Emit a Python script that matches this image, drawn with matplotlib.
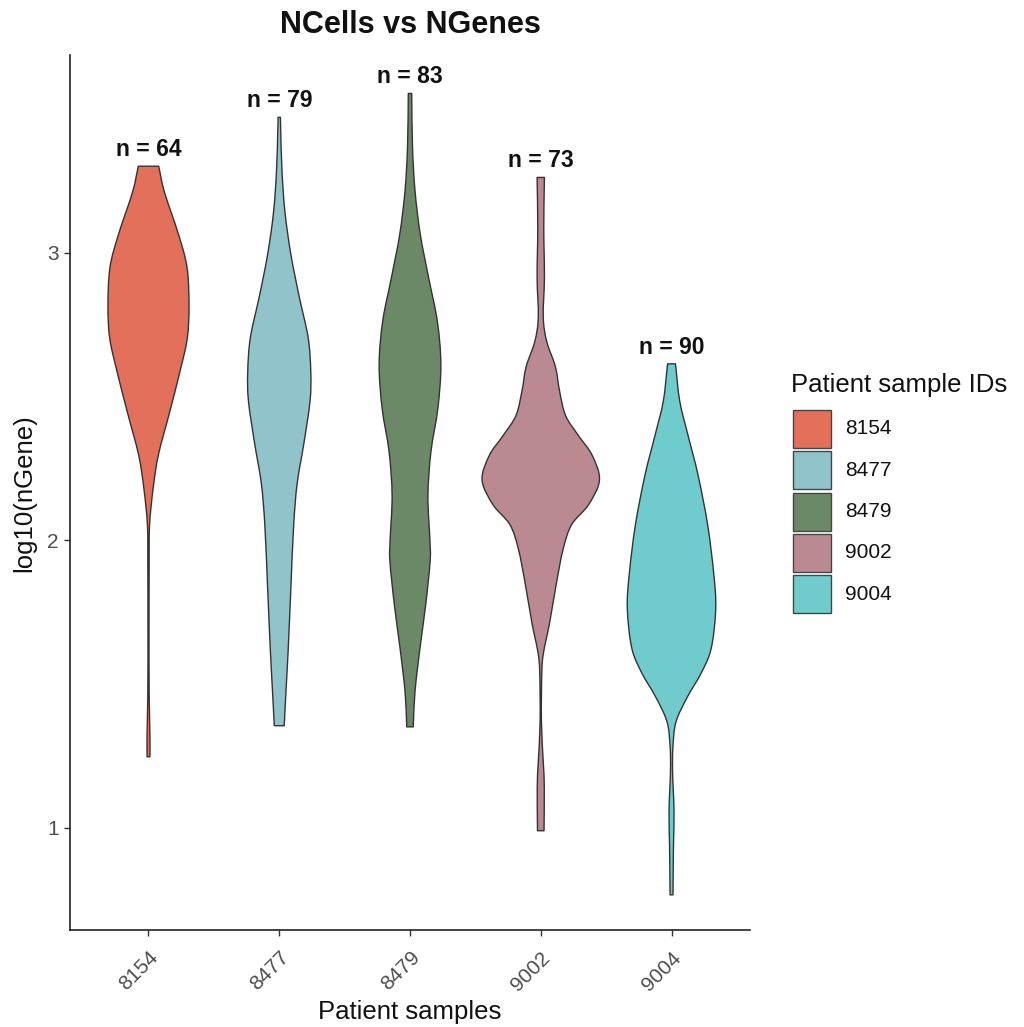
import numpy as np
import matplotlib
matplotlib.use("Agg")
import matplotlib.pyplot as plt
from matplotlib.path import Path
from matplotlib.patches import PathPatch, Rectangle

plt.rcParams["font.family"] = ["Liberation Sans", "DejaVu Sans"]

# ---- data -------------------------------------------------------------
samples = ["8154", "8477", "8479", "9002", "9004"]
cell_counts = [64, 79, 83, 73, 90]
fill_colors = ["#E2705A", "#91C3CB", "#6C8967", "#BB8991", "#70CCCC"]

# Violin outlines: log10(nGene) levels (top -> bottom) and density half-widths
# (in category units) at each level.
levels_8154 = [3.300, 3.210, 3.065, 2.950, 2.819, 2.703, 2.587, 2.442, 2.297,
               2.182, 2.051, 1.906, 1.689, 1.471, 1.327, 1.247]
widths_8154 = [0.078, 0.122, 0.228, 0.294, 0.310, 0.297, 0.241, 0.160, 0.076,
               0.036, 0.008, 0.005, 0.004, 0.005, 0.011, 0.011]

levels_8477 = [3.470, 3.428, 3.283, 3.139, 2.993, 2.848, 2.704, 2.587, 2.486,
               2.341, 2.197, 2.050, 1.835, 1.616, 1.471, 1.355]
widths_8477 = [0.009, 0.011, 0.021, 0.044, 0.089, 0.152, 0.221, 0.241, 0.236,
               0.190, 0.137, 0.110, 0.089, 0.068, 0.051, 0.038]

levels_8479 = [3.553, 3.368, 3.216, 3.065, 2.913, 2.761, 2.610, 2.458, 2.307,
               2.155, 2.003, 1.929, 1.776, 1.624, 1.473, 1.351]
widths_8479 = [0.013, 0.019, 0.038, 0.078, 0.142, 0.209, 0.236, 0.213, 0.160,
               0.137, 0.152, 0.154, 0.120, 0.076, 0.038, 0.025]

levels_9002 = [3.261, 3.085, 2.913, 2.775, 2.690, 2.603, 2.518, 2.433, 2.363,
               2.295, 2.209, 2.123, 2.054, 1.969, 1.849, 1.711, 1.609, 1.539,
               1.369, 1.230, 1.144, 0.990]
widths_9002 = [0.028, 0.023, 0.028, 0.019, 0.046, 0.112, 0.144, 0.190, 0.289,
               0.393, 0.449, 0.365, 0.236, 0.171, 0.119, 0.067, 0.021, 0.008,
               0.005, 0.019, 0.027, 0.025]

levels_9004 = [2.613, 2.483, 2.363, 2.226, 2.054, 1.883, 1.762, 1.625, 1.539,
               1.454, 1.368, 1.282, 1.196, 1.059, 0.938, 0.767]
widths_9004 = [0.030, 0.063, 0.127, 0.203, 0.276, 0.323, 0.338, 0.304, 0.228,
               0.120, 0.034, 0.011, 0.008, 0.019, 0.015, 0.011]

violin_levels = [levels_8154, levels_8477, levels_8479, levels_9002, levels_9004]
violin_widths = [widths_8154, widths_8477, widths_8479, widths_9002, widths_9004]

y_ticks = [1, 2, 3]


# ---- helpers -----------------------------------------------------------
def smooth_side(pts):
    """Catmull-Rom style cubic Bezier segments through (w, y) points."""
    pts = np.asarray(pts, float)
    n = len(pts)
    m = np.zeros_like(pts)
    m[1:-1] = (pts[2:] - pts[:-2]) / 2.0
    m[0] = pts[1] - pts[0]
    m[-1] = pts[-1] - pts[-2]
    segs = []
    for i in range(n - 1):
        c1 = pts[i] + m[i] / 3.0
        c2 = pts[i + 1] - m[i + 1] / 3.0
        c1[0] = max(c1[0], 0.002)
        c2[0] = max(c2[0], 0.002)
        segs.append((c1, c2, pts[i + 1]))
    return segs


def violin_patch(x0, levels, widths, color):
    pts = np.column_stack([widths, levels])
    verts, codes = [], []
    # right side, top -> bottom
    verts.append((x0 + pts[0, 0], pts[0, 1]))
    codes.append(Path.MOVETO)
    for c1, c2, p in smooth_side(pts):
        for q in (c1, c2, p):
            verts.append((x0 + q[0], q[1]))
            codes.append(Path.CURVE4)
    # flat trimmed bottom
    verts.append((x0 - pts[-1, 0], pts[-1, 1]))
    codes.append(Path.LINETO)
    # left side, bottom -> top
    for c1, c2, p in smooth_side(pts[::-1]):
        for q in (c1, c2, p):
            verts.append((x0 - q[0], q[1]))
            codes.append(Path.CURVE4)
    verts.append((x0 + pts[0, 0], pts[0, 1]))
    codes.append(Path.CLOSEPOLY)
    return PathPatch(Path(verts, codes), facecolor=color, edgecolor="#333333",
                     linewidth=1.0, joinstyle="round", zorder=3)


# ---- figure ------------------------------------------------------------
fig = plt.figure(figsize=(10.24, 10.27), dpi=100)
ax = fig.add_axes([0.0684, 0.0945, 0.664, 0.8515])

positions = np.arange(1, len(samples) + 1)
for x0, lv, wd, col, n in zip(positions, violin_levels, violin_widths,
                              fill_colors, cell_counts):
    ax.add_patch(violin_patch(x0, lv, wd, col))
    ax.text(x0, max(lv) + 0.035, f"n = {n}", ha="center", va="baseline",
            fontsize=16.5, fontweight="bold", color="#111111", zorder=4)

ax.set_xlim(0.4, 5.6)
ax.set_ylim(0.645, 3.685)
ax.set_xticks(positions)
ax.set_xticklabels(samples, rotation=45, ha="right", va="top",
                   rotation_mode="anchor")
ax.set_yticks(y_ticks)
ax.set_yticklabels([str(t) for t in y_ticks])

for side in ("top", "right"):
    ax.spines[side].set_visible(False)
for side in ("left", "bottom"):
    ax.spines[side].set_color("#222222")
    ax.spines[side].set_linewidth(1.2)
ax.tick_params(axis="both", length=4, width=1.0, color="#333333",
               labelsize=15, labelcolor="#4D4D4D")
ax.tick_params(axis="x", pad=9)
ax.tick_params(axis="y", pad=4)

ax.set_xlabel("Patient samples", fontsize=18.5, color="#111111", labelpad=4)
ax.set_ylabel("log10(nGene)", fontsize=18.5, color="#111111", labelpad=8)
ax.set_title("NCells vs NGenes", fontsize=22, fontweight="bold",
             color="#111111", pad=16)

# ---- legend (drawn in figure pixel space) ------------------------------
lax = fig.add_axes([0, 0, 1, 1], zorder=5)
lax.set_xlim(0, 1024)
lax.set_ylim(1027, 0)
lax.axis("off")
lax.text(791, 385, "Patient sample IDs", fontsize=18.5, color="#111111",
         ha="left", va="center")
key_top, key_step, key_size = 410, 41.3, 38
for i, (lab, col) in enumerate(zip(samples, fill_colors)):
    y0 = key_top + i * key_step
    lax.add_patch(Rectangle((793, y0), key_size, key_size, facecolor=col,
                            edgecolor="#444444", linewidth=1.0))
    lax.text(845, y0 + key_size / 2, lab, fontsize=15, color="#111111",
             ha="left", va="center")

fig.savefig("out.png", dpi=100, facecolor="white")
